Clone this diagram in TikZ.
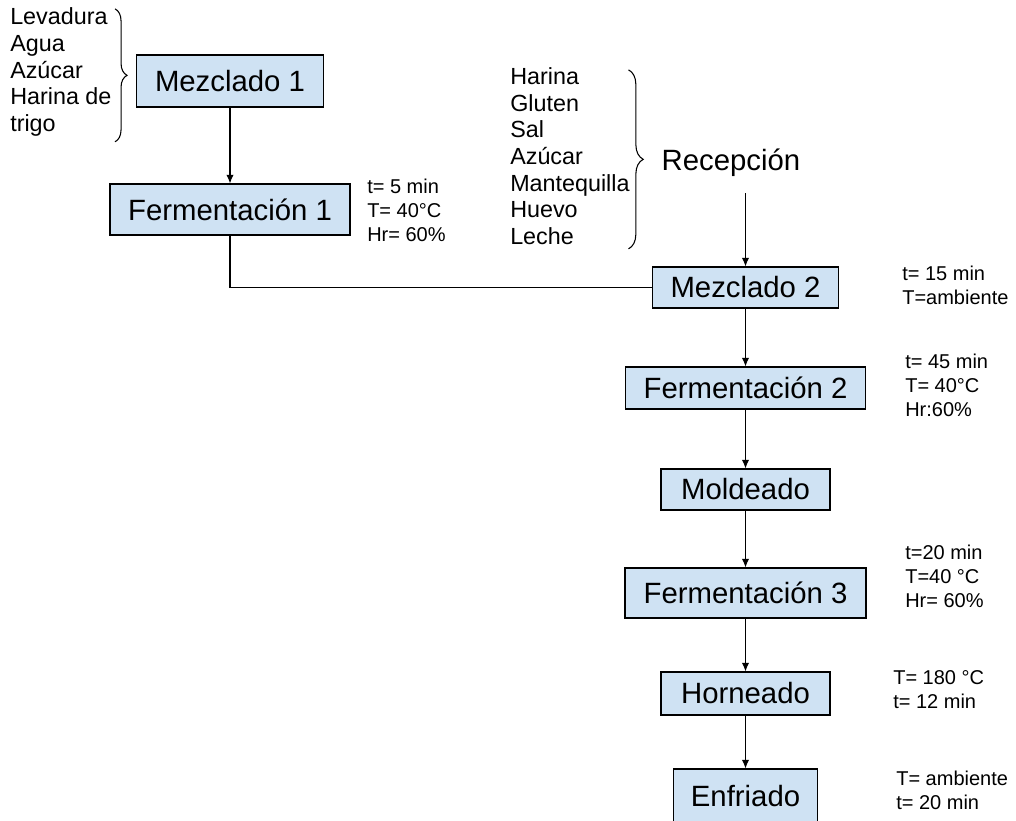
\documentclass[tikz,border=0pt]{standalone}
\usepackage{fontspec}
\setmainfont{Liberation Sans}
\usetikzlibrary{arrows.meta,decorations.pathreplacing}
\definecolor{boxblue}{HTML}{CFE2F3}
\tikzset{
  procbox/.style={draw=black,fill=boxblue,line width=0.8pt,inner sep=0pt,
    font=\fontsize{22}{26}\selectfont},
  inglist/.style={inner sep=0pt,align=left,anchor=west,
    font=\fontsize{17.5}{20}\selectfont},
  paramlist/.style={inner sep=0pt,align=left,anchor=west,
    font=\fontsize{15}{18}\selectfont},
  ingbrace/.style={decorate,line width=0.8pt},
}
\begin{document}
\begin{tikzpicture}[x=0.75pt,y=-0.75pt]
      \clip (0,0) rectangle (1016,820);
      \path[use as bounding box] (0,0) rectangle (1016,820);

      \begin{scope}[every node/.style={procbox}]
        \node[minimum width=140.25pt,minimum height=39pt]    (mez1) at (230,81)    {Mezclado 1};
        \node[minimum width=180pt,minimum height=38.25pt]    (fer1) at (230,209.5) {Fermentación 1};
        \node[minimum width=139.5pt,minimum height=30.75pt]  (mez2) at (745.5,287.5) {Mezclado 2};
        \node[minimum width=180pt,minimum height=31.5pt]     (fer2) at (745.5,388) {Fermentación 2};
        \node[minimum width=126.75pt,minimum height=30.75pt] (mold) at (745.5,489.5) {Moldeado};
        \node[minimum width=180.75pt,minimum height=37.5pt]  (fer3) at (745.5,593) {Fermentación 3};
        \node[minimum width=126.75pt,minimum height=32.25pt] (horn) at (745.5,693.5) {Horneado};
        \node[minimum width=108pt,minimum height=40.5pt]     (enfr) at (745.5,796) {Enfriado};
      \end{scope}

      \node[font=\fontsize{22}{26}\selectfont,inner ysep=12pt] (recep) at (731,163) {Recepción};

      \node[inglist] (levlist) at (10,72)  {Levadura\\Agua\\Azúcar\\Harina de\\trigo};
      \node[inglist] (harlist) at (510,156) {Harina\\Gluten\\Sal\\Azúcar\\Mantequilla\\Huevo\\Leche};

      \node[paramlist] (pfer1) at (367,210.5) {t= 5 min\\T= 40°C\\Hr= 60\%};
      \node[paramlist] (pmez2) at (902,285.5) {t= 15 min\\T=ambiente};
      \node[paramlist] (pfer2) at (905,385)   {t= 45 min\\T= 40°C\\Hr:60\%};
      \node[paramlist] (pfer3) at (905,576.5) {t=20 min\\T=40 °C\\Hr= 60\%};
      \node[paramlist] (phorn) at (893,690)   {T= 180 °C\\t= 12 min};
      \node[paramlist] (penfr) at (896,790)   {T= ambiente\\t= 20 min};

      \draw[ingbrace,decoration={brace,amplitude=9pt}]
        ([xshift=2.5pt,yshift=-1pt]levlist.north east) -- ([xshift=2.5pt,yshift=-4pt]levlist.south east);
      \draw[ingbrace,decoration={brace,amplitude=11pt}]
        ([xshift=-1pt,yshift=-2pt]harlist.north east) -- ([xshift=-1pt,yshift=-3pt]harlist.south east);

      \begin{scope}[every edge/.style={draw,line width=0.8pt,-{Latex[length=6.5pt,width=5.5pt]}}]
        \path (mez1) edge (fer1);
        \path (recep.south -| mez2.north) edge (mez2);
        \path (mez2) edge (fer2);
        \path (fer2) edge (mold);
        \path (mold) edge (fer3);
        \path (fer3) edge (horn);
        \path (horn) edge (enfr);
      \end{scope}
      \draw[line width=0.8pt] (fer1) |- (mez2);

    \end{tikzpicture}
\end{document}
